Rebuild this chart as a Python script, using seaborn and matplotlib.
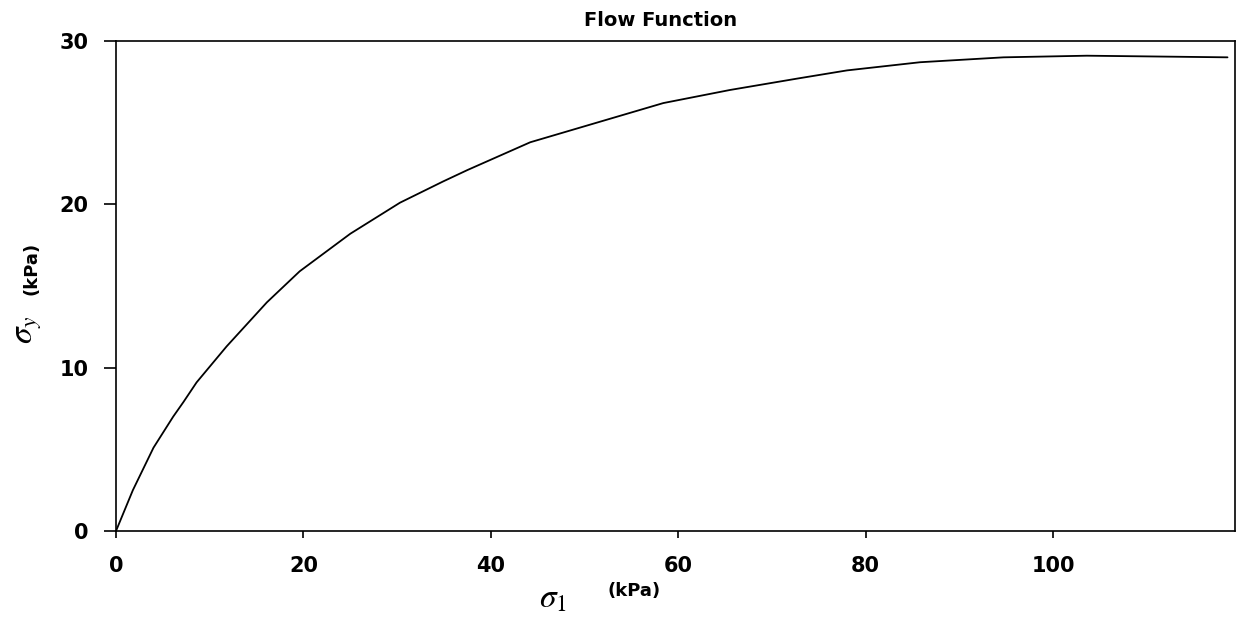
import matplotlib.pyplot as plt
import seaborn as sns

# Flow function curve
sigma_1 = [0, 1.8, 4.0, 6.1, 7.2, 8.6, 11.8, 16.1, 19.6, 25.0, 30.3, 34.9, 37.5,
           44.2, 51.3, 58.4, 65.5, 72.7, 78.0, 85.8, 94.7, 103.6, 118.6]
sigma_y = [0, 2.5, 5.1, 7.0, 7.9, 9.1, 11.3, 14.0, 15.9, 18.2, 20.1, 21.4, 22.1,
           23.8, 25.0, 26.2, 27.0, 27.7, 28.2, 28.7, 29.0, 29.1, 29.0]
x_ticks = [0, 20, 40, 60, 80, 100]
y_ticks = [0, 10, 20, 30]

sns.set_style("ticks")
plt.rcParams["font.family"] = ["DejaVu Sans"]
plt.rcParams["mathtext.fontset"] = "stix"
plt.rcParams["text.color"] = "black"
plt.rcParams["xtick.color"] = "black"
plt.rcParams["ytick.color"] = "black"
plt.rcParams["axes.edgecolor"] = "black"

fig = plt.figure(figsize=(12.38, 6.18), dpi=100)
ax = fig.add_axes([116 / 1238, 1 - 531 / 618, (1235 - 116) / 1238, (531 - 41) / 618])

sns.lineplot(x=sigma_1, y=sigma_y, ax=ax, color="black", linewidth=1.3)

ax.set_xlim(0, 119.4)
ax.set_ylim(0, 30)
ax.set_xticks(x_ticks)
ax.set_yticks(y_ticks)
ax.set_xticklabels([str(v) for v in x_ticks], fontsize=15, fontweight="bold")
ax.set_yticklabels([str(v) for v in y_ticks], fontsize=15, fontweight="bold")
ax.tick_params(axis="y", length=9, width=1.2, pad=11, direction="out")
ax.tick_params(axis="x", length=5, width=1.2, pad=13, direction="out")
for s in ax.spines.values():
    s.set_visible(True)
    s.set_linewidth(1.2)

ax.set_title("Flow Function", fontsize=14, fontweight="bold", pad=11, x=0.487)

# axis labels: large math symbol plus small bold unit
fig.text(553 / 1238, 1 - 598 / 618, r"$\sigma_1$", fontsize=24, ha="center", va="center")
fig.text(634 / 1238, 1 - 591 / 618, "(kPa)", fontsize=13, fontweight="bold",
         ha="center", va="center")
fig.text(28 / 1238, 1 - 330 / 618, r"$\sigma_y$", fontsize=24, ha="center",
         va="center", rotation=90)
fig.text(32 / 1238, 1 - 268 / 618, "(kPa)", fontsize=13, fontweight="bold",
         ha="center", va="center", rotation=90)

fig.savefig("out.png", dpi=100, facecolor="white")
